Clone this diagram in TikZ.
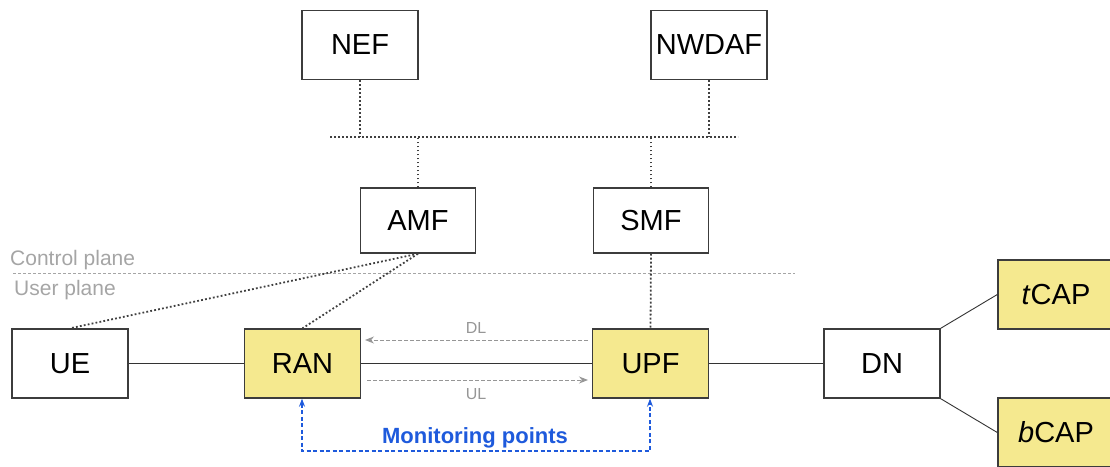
\documentclass[tikz,border=0pt]{standalone}
\usepackage{fontspec}
\setmainfont{Liberation Sans}
\usetikzlibrary{arrows.meta}
\definecolor{capyellow}{RGB}{245,233,143}
\definecolor{boxline}{RGB}{60,60,60}
\definecolor{planegray}{RGB}{165,165,165}
\definecolor{flowgray}{RGB}{150,150,150}
\definecolor{monblue}{RGB}{30,90,220}
\begin{document}
\begin{tikzpicture}[x=1pt,y=-1pt,
  box/.style={draw=boxline, line width=1.4pt, minimum width=116pt, minimum height=69pt, inner sep=0pt, font=\fontsize{29}{31}\selectfont},
  smallbox/.style={box, minimum height=65pt, minimum width=115pt},
  capbox/.style={box, fill=capyellow},
  ctrl/.style={draw=black!75, line width=1.8pt, dash pattern=on 1.8pt off 2.2pt},
  plain/.style={draw=black!80, line width=0.9pt},
  flow/.style={draw=flowgray, line width=1pt, dash pattern=on 4pt off 2pt, -{Stealth[length=9pt,width=7pt]}},
  mon/.style={draw=monblue, line width=1.1pt, dash pattern=on 4pt off 2.5pt, {Stealth[length=8pt,width=6pt]}-{Stealth[length=8pt,width=6pt]}},
  planelbl/.style={text=planegray, font=\fontsize{21}{23}\selectfont, anchor=west, inner sep=0pt},
  flowlbl/.style={text=flowgray, font=\fontsize{16}{18}\selectfont, inner sep=0pt}]
\useasboundingbox (0,0) rectangle (1110,466);
% nodes
\node[box] (NEF) at (360,45) {NEF};
\node[box] (NWDAF) at (709,45) {NWDAF};
\node[smallbox] (AMF) at (418,220.5) {AMF};
\node[smallbox] (SMF) at (651,220.5) {SMF};
\node[box] (UE) at (70,363.5) {UE};
\node[capbox] (RAN) at (302.5,363.5) {RAN};
\node[capbox] (UPF) at (650.5,363.5) {UPF};
\node[box] (DN) at (882,363.5) {DN};
\node[capbox] (tCAP) at (1056,294.5) {\textit{t}CAP};
\node[capbox] (bCAP) at (1056,432.5) {\textit{b}CAP};
% service bus
\coordinate (busL) at (330,137);
\coordinate (busR) at (738,137);
\draw[ctrl] (busL) -- (busR);
\draw[ctrl] (NEF.south) -- (NEF.south |- busL);
\draw[ctrl] (NWDAF.south) -- (NWDAF.south |- busL);
\draw[ctrl] (AMF.north) -- (AMF.north |- busL);
\draw[ctrl] (SMF.north) -- (SMF.north |- busL);
% control/user plane separator
\coordinate (sepL) at (13,273);
\coordinate (sepR) at (795,273);
\draw[draw=planegray, line width=0.8pt, dash pattern=on 3pt off 2pt] (sepL) -- (sepR);
\node[planelbl] (cp) at (10,260) {Control plane};
\node[planelbl] (up) at (14,290) {User plane};
% control links
\draw[ctrl] (AMF.south) -- (UE.north);
\draw[ctrl] (AMF.south) -- (RAN.north);
\draw[ctrl] (SMF.south) -- (UPF.north);
% user plane links
\draw[plain] (UE) -- (RAN);
\draw[plain] (RAN) -- (UPF);
\draw[plain] (UPF) -- (DN);
\draw[plain] (DN.north east) -- (tCAP.west);
\draw[plain] (DN.south east) -- (bCAP.west);
% DL / UL
\coordinate (dlS) at (588,340);
\coordinate (dlE) at (365,340);
\coordinate (ulS) at (367,380);
\coordinate (ulE) at (588,380);
\draw[flow] (dlS) -- (dlE);
\draw[flow] (ulS) -- (ulE);
\node[flowlbl] (DL) at (476,328) {DL};
\node[flowlbl] (UL) at (476,394) {UL};
% monitoring points
\coordinate (mL) at (302,451);
\coordinate (mR) at (650,451);
\draw[mon] (RAN.south -| mL) -- (mL) -- (mR) -- (UPF.south -| mR);
\node[text=monblue, font=\bfseries\fontsize{22}{24}\selectfont, inner sep=0pt] (MP) at (475,438) {Monitoring points};
\end{tikzpicture}
\end{document}
